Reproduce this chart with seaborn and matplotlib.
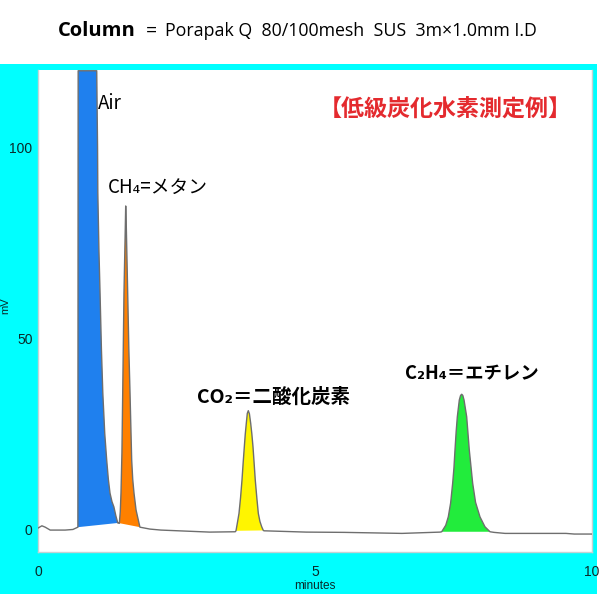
import numpy as np
import pandas as pd
import matplotlib
matplotlib.use("Agg")
import matplotlib.pyplot as plt
from matplotlib.patches import Rectangle
import seaborn as sns

# ---------------- data ----------------
pre_time = [0.0, 0.07, 0.13, 0.22, 0.49, 0.63, 0.72]
pre_signal = [0.26, 0.86, 0.5, -0.26, -0.26, -0.1, 0.5]

air_time = [0.72, 0.725, 1.06, 1.075, 1.08, 1.10, 1.12, 1.145, 1.17, 1.205, 1.24, 1.27, 1.30, 1.335, 1.37, 1.405, 1.44]
air_signal = [0.5, 120.0, 120.0, 100.0, 88.0, 73.0, 61.8, 47.0, 35.6, 25.0, 18.1, 13.0, 9.4, 7.2, 5.8, 3.5, 1.6]

ch4_time = [1.45, 1.468, 1.485, 1.498, 1.515, 1.529, 1.552, 1.576, 1.583, 1.594, 1.619, 1.64, 1.661, 1.691, 1.71, 1.733, 1.77, 1.81, 1.84]
ch4_signal = [1.6, 1.5, 4.5, 9.4, 20.0, 35.6, 61.8, 79.1, 84.6, 79.1, 61.8, 47.0, 35.6, 18.1, 13.0, 9.4, 5.0, 2.4, 0.5]

mid1_time = [2.02, 2.22, 3.10, 3.56]
mid1_signal = [0.0, -0.26, -0.79, -0.7]

co2_time = [3.574, 3.601, 3.628, 3.656, 3.682, 3.703, 3.724, 3.741, 3.76, 3.778, 3.796, 3.816, 3.839,
            3.860, 3.881, 3.901, 3.922, 3.951, 3.977, 4.006, 4.038, 4.067]
co2_signal = [-0.45, 1.8, 4.1, 8.2, 12.8, 17.3, 21.5, 24.8, 27.7, 30.3, 31.0, 30.2, 27.7,
              24.9, 21.5, 17.3, 12.8, 8.0, 4.1, 2.0, 0.6, -0.35]

mid2_time = [4.08, 4.84, 5.52, 6.57, 7.26]
mid2_signal = [-0.45, -0.79, -0.86, -1.13, -0.79]

c2h4_time = [7.287, 7.36, 7.406, 7.448, 7.485, 7.508, 7.527, 7.548, 7.569, 7.605, 7.628, 7.648, 7.668,
             7.69, 7.738, 7.785, 7.818, 7.846, 7.898, 7.978, 8.068, 8.159]
c2h4_signal = [-0.7, 1.0, 3.2, 6.8, 12.0, 16.0, 20.7, 25.5, 29.4, 33.8, 35.0, 35.3, 35.0,
               33.8, 29.4, 20.7, 16.0, 12.0, 7.0, 3.2, 0.6, -0.7]

tail_time = [8.23, 8.43, 9.53, 9.68, 9.98, 10.0]
tail_signal = [-0.86, -1.13, -1.13, -1.3, -1.3, -1.3]

peak_colors = ["#1F80EE", "#FF8000", "#FFF500", "#22EC3C"]

x_ticks = [0, 5, 10]
y_ticks = [0, 50, 100]

title_bold = "Column"
title_rest = "Porapak Q  80/100mesh  SUS  3m×1.0mm I.D"
banner = "【低級炭化水素測定例】"

# ---------------- figure ----------------
sns.set_style("white")
plt.rcParams["font.family"] = ["Noto Sans CJK JP", "DejaVu Sans"]

fig = plt.figure(figsize=(6, 6), dpi=100)
fig.patch.set_facecolor("white")
fig.add_artist(Rectangle((0, 0.01), 0.995, 0.884, transform=fig.transFigure,
                         facecolor="#00FFFF", edgecolor="none", zorder=0))

ax = fig.add_axes([38 / 600, 48 / 600, 554 / 600, 482 / 600])
ax.set_facecolor("white")

full_time = pre_time + air_time + ch4_time + mid1_time + co2_time + mid2_time + c2h4_time + tail_time
full_signal = pre_signal + air_signal + ch4_signal + mid1_signal + co2_signal + mid2_signal + c2h4_signal + tail_signal
df = pd.DataFrame({"minutes": full_time, "mV": full_signal})

peaks = [(air_time, air_signal), (ch4_time, ch4_signal), (co2_time, co2_signal), (c2h4_time, c2h4_signal)]
for (t, s), c in zip(peaks, peak_colors):
    ax.fill(t, s, color=c, linewidth=0, zorder=2)

sns.lineplot(data=df, x="minutes", y="mV", sort=False, estimator=None,
             color="#6E6E6E", linewidth=1.0, ax=ax, zorder=3)

ax.set_xlim(0, 10)
ax.set_ylim(-6, 120.2)
ax.set_xticks(x_ticks)
ax.set_yticks(y_ticks)
narrow = ["Liberation Sans", "DejaVu Sans"]
ax.set_xticklabels([str(v) for v in x_ticks], family=narrow, fontsize=10, color="#0A2A2A")
ax.set_yticklabels([str(v) for v in y_ticks], family=narrow, fontsize=10, color="#0A2A2A")
ax.tick_params(axis="both", length=0)
ax.tick_params(axis="x", pad=9)
ax.tick_params(axis="y", pad=4)
ax.set_xlabel("minutes", family=narrow, fontsize=8.5, color="#0A2A2A", labelpad=1)
ax.set_ylabel("mV", family=narrow, fontsize=8, color="#0A2A2A")
ax.yaxis.set_label_coords(-0.05, 0.51)
for side in ["left", "bottom", "right"]:
    ax.spines[side].set_color("#C6D2D4")
    ax.spines[side].set_linewidth(1.0)
ax.spines["top"].set_visible(False)

# peak labels
ax.text(1.08, 111.5, "Air", fontsize=13.5, color="black", va="center", ha="left")
ax.text(1.26, 89.5, "CH₄=メタン", fontsize=13.5, color="black", va="center", ha="left")
ax.text(2.87, 34.6, "CO₂＝二酸化炭素", fontsize=14, fontweight="bold", color="black", va="center", ha="left")
ax.text(6.62, 40.8, "C₂H₄＝エチレン", fontsize=13.2, fontweight="bold", color="black", va="center", ha="left")
ax.text(7.35, 110.0, banner, fontsize=16.6, fontweight="bold", color="#E42A2E", va="center", ha="center")

# title
sans = ["Open Sans", "DejaVu Sans"]
fig.text(136 / 600, 1 - 31 / 600, title_bold, family=sans, fontweight="bold", fontsize=14.5,
         ha="right", va="center", color="black")
fig.text(151 / 600, 1 - 31 / 600, "=", family=sans, fontsize=14, ha="center", va="center", color="black")
fig.text(165 / 600, 1 - 31 / 600, title_rest, family=sans, fontsize=12.8, ha="left", va="center", color="black")

fig.savefig("out.png", dpi=100)
